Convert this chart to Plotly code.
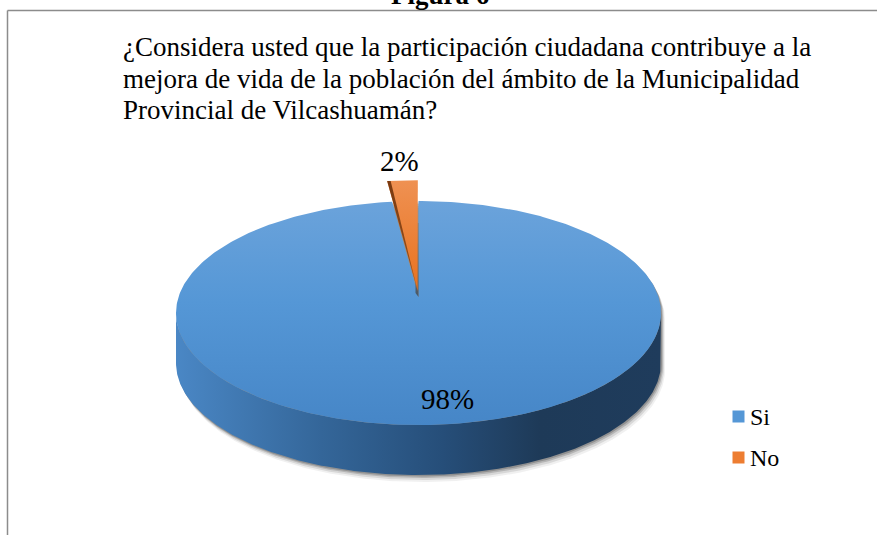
import numpy as np
import plotly.graph_objects as go

# ---------------- data ----------------
categories = ["Si", "No"]
values = [98, 2]
slice_colors = ["#5597D6", "#ED7D31"]
title_lines = [
    "¿Considera usted que la participación ciudadana contribuye a la",
    "mejora de vida de la población del ámbito de la Municipalidad",
    "Provincial de Vilcashuamán?",
]
figure_label = "Figura 6"

# ---------------- geometry / style ----------------
W, H = 877, 535
CX, CY = 418.5, 297.0          # projected pie centre (pixels)
A, B, K = 240.0, 109.7, 0.143  # horizontal radius, vertical radius, perspective
DEPTH = 50.0
EXPLODE_OFF = {"No": 0.055}
EXPLODE_SCALE = {"No": 1.2}
FONT = "Liberation Serif"


def proj(u, v):
    u = np.asarray(u, float)
    v = np.asarray(v, float)
    d = 1.0 + K * v
    return CX + A * u / d, CY - B * v / d


total = float(sum(values))
cum = np.concatenate([[0.0], np.cumsum(values)]) / total * 360.0

fig = go.Figure()


def poly(xs, ys, **kw):
    xs = list(xs) + [xs[0]]
    ys = list(ys) + [ys[0]]
    fig.add_trace(go.Scatter(x=xs, y=ys, mode="lines", fill="toself",
                             line=dict(width=0), hoverinfo="skip",
                             showlegend=False, **kw))


def vgrad(top, bottom, mid=None):
    # y axis is reversed: gradient runs in data order, so list bottom first
    if mid is None:
        cs = [[0, bottom], [1, top]]
    else:
        cs = [[0, bottom], [0.55, mid], [1, top]]
    return dict(type="vertical", colorscale=cs)


s = np.degrees(np.arcsin(K))
# ---- shadow (silhouette copies) ----
th_top = np.radians(np.linspace(-s, 180 + s, 200))
th_bot = np.radians(np.linspace(180 + s, 360 - s, 200))
sx1, sy1 = proj(np.cos(th_top), np.sin(th_top))
sx2, sy2 = proj(np.cos(th_bot), np.sin(th_bot))
silx = np.concatenate([sx1, sx2])
sily = np.concatenate([sy1, sy2 + DEPTH])
for (dx, dy, al) in [(4, 7, 0.06), (3, 5, 0.10), (2, 3, 0.16), (1, 1.5, 0.2)]:
    poly(silx + dx, sily + dy, fillcolor=f"rgba(0,0,0,{al})")

# ---- side of the main slice ----
th = np.radians(np.linspace(180 + s, 360 - s, 300))
tx, ty = proj(np.cos(th), np.sin(th))
side_x = np.concatenate([tx, tx[::-1]])
side_y = np.concatenate([ty, ty[::-1] + DEPTH])
poly(side_x, side_y, fillcolor="#2c5a8a",
     fillgradient=dict(type="horizontal",
                       colorscale=[[0, "#4a87c5"], [0.3, "#346699"],
                                   [0.55, "#264e79"], [0.75, "#1e3a58"],
                                   [1, "#1f3c5c"]]))

# ---- top face of main slice ("Si") ----
phi = np.radians(np.linspace(cum[0], cum[1], 400))
ax_, ay_ = proj(np.sin(phi), np.cos(phi))
px_, py_ = proj(0, 0)
poly(np.concatenate([[px_], ax_]), np.concatenate([[py_], ay_]),
     fillcolor=slice_colors[0],
     fillgradient=vgrad("#6ba3db", "#4686c7", "#5597d6"))

# ---- visible radial face of the gap ----
gx0, gy0 = proj(0, 0)
gx1, gy1 = proj(0, 1)
poly([gx1, gx1, gx1 - 3, gx1 - 3], [gy1 + 22, gy0, gy0 - 4, gy1 + 22],
     fillcolor="#5f6b78", fillgradient=vgrad("#7c7c7c", "#4a5866"))

# ---- exploded slice ("No") ----
pm = np.radians((cum[1] + cum[2]) / 2)
off = EXPLODE_OFF["No"]
sc = EXPLODE_SCALE["No"]
eu, ev = off * np.sin(pm), off * np.cos(pm)
phi2 = np.radians(np.linspace(cum[1], cum[2], 40))
ox, oy = proj(eu + sc * np.sin(phi2), ev + sc * np.cos(phi2))
tipx, tipy = proj(eu, ev)
poly(np.concatenate([[tipx], ox]), np.concatenate([[tipy], oy]),
     fillcolor=slice_colors[1], fillgradient=vgrad("#ef9152", "#e8721f"))
# its visible cut face
poly([ox[0], ox[0] + 3.5, tipx], [oy[0], oy[0], tipy], fillcolor="#8a4616",
     fillgradient=vgrad("#7a3a10", "#9a5420"))

# ---- data labels ----
lab_si_phi = np.radians((cum[0] + cum[1]) / 2)
lx, ly = proj(0.82 * np.sin(lab_si_phi), 0.82 * np.cos(lab_si_phi))
ln_x, ln_y = proj(eu + 1.45 * np.sin(pm), ev + 1.45 * np.cos(pm))
annotations = [
    dict(x=float(lx), y=float(ly), xshift=15, text=f"{values[0]}%",
         showarrow=False, font=dict(family=FONT, size=29, color="black"),
         xanchor="center", yanchor="middle"),
    dict(x=float(ln_x), y=float(ln_y), text=f"{values[1]}%",
         showarrow=False, font=dict(family=FONT, size=29, color="black"),
         xanchor="center", yanchor="middle"),
]

# ---- legend (manual) ----
leg_y = [416.5, 457.5]
fig.add_trace(go.Scatter(x=[738.5, 738.5], y=leg_y, mode="markers",
                         marker=dict(symbol="square", size=12,
                                     color=slice_colors, line=dict(width=0)),
                         hoverinfo="skip", showlegend=False))
for cat, yy in zip(categories, leg_y):
    annotations.append(dict(x=748, y=yy, text=cat, showarrow=False,
                            xanchor="left", yanchor="middle",
                            font=dict(family=FONT, size=24, color="black")))

# ---- title ----
for i, line in enumerate(title_lines):
    annotations.append(dict(x=121, y=47 + 31.5 * i, text=line, showarrow=False,
                            xanchor="left", yanchor="middle",
                            font=dict(family=FONT, size=27, color="black")))
annotations.append(dict(x=440 / W, y=1 + 5 / H, xref="paper", yref="paper",
                        text=f"<b>{figure_label}</b>", showarrow=False,
                        xanchor="center", yanchor="middle",
                        font=dict(family=FONT, size=27, color="black")))

shapes = [
    dict(type="line", x0=7.5, x1=W, y0=10.5, y1=10.5,
         line=dict(color="#8c8c8c", width=1.5)),
    dict(type="line", x0=7.5, x1=7.5, y0=10.5, y1=H,
         line=dict(color="#8c8c8c", width=1.5)),
]

fig.update_layout(
    width=W, height=H, autosize=False,
    margin=dict(l=0, r=0, t=0, b=0),
    paper_bgcolor="white", plot_bgcolor="white",
    xaxis=dict(range=[0, W], visible=False, fixedrange=True),
    yaxis=dict(range=[H, 0], visible=False, fixedrange=True),
    annotations=annotations, shapes=shapes, showlegend=False,
)
fig.write_html("out.html",
               config={"displayModeBar": False, "staticPlot": True},
               post_script="document.body.style.margin='0';"
                           "document.body.style.overflow='hidden';")
